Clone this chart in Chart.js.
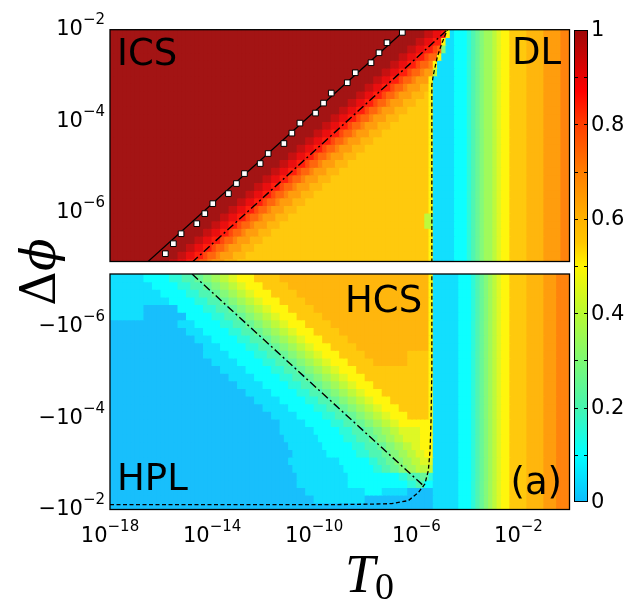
<!DOCTYPE html>
<html><head><meta charset="utf-8">
<script src="https://cdn.jsdelivr.net/npm/chart.js@4.4.1/dist/chart.umd.min.js"></script>
<style>
html,body{margin:0;padding:0;background:#fff;overflow:hidden}
#wrap{position:relative;width:624px;height:601px;background:#fff}
#wrap canvas{position:absolute;left:0;top:0}
</style></head><body>
<div id="wrap">
<canvas id="cTop" width="624" height="601"></canvas>
<canvas id="cBot" width="624" height="601"></canvas>
<canvas id="cBar" width="624" height="601"></canvas>
</div>
<script>
// ---------------- DATA ----------------
// cell centres, log10(T0)
const LOG_T0 = [
  -17.917,-17.75,-17.583,-17.417,-17.25,-17.083, -16.917,-16.75,-16.583,-16.417,-16.25,-16.083,
  -15.917,-15.75,-15.583,-15.417,-15.25,-15.083, -14.917,-14.75,-14.583,-14.417,-14.25,-14.083,
  -13.917,-13.75,-13.583,-13.417,-13.25,-13.083, -12.917,-12.75,-12.583,-12.417,-12.25,-12.083,
  -11.917,-11.75,-11.583,-11.417,-11.25,-11.083, -10.917,-10.75,-10.583,-10.417,-10.25,-10.083,
  -9.917,-9.75,-9.583,-9.417,-9.25,-9.083, -8.917,-8.75,-8.583,-8.417,-8.25,-8.083,
  -7.917,-7.75,-7.583,-7.417,-7.25,-7.083, -6.917,-6.75,-6.583,-6.417,-6.25,-6.083,
  -5.917,-5.75,-5.583,-5.417,-5.25,-5.083, -4.917,-4.75,-4.583,-4.417,-4.25,-4.083,
  -3.917,-3.75,-3.583,-3.417,-3.25,-3.083, -2.917,-2.75,-2.583,-2.417,-2.25,-2.083,
  -1.917,-1.75,-1.583,-1.417,-1.25,-1.083, -0.917,-0.75,-0.583,-0.417,-0.25,-0.083];
// cell centres, log10(Δφ) for Δφ > 0 (upper panel, top -> bottom)
const LOG_DPHI_POS = [-2.083,-2.25,-2.417,-2.583,-2.75,-2.917,-3.083,-3.25,-3.417,-3.583,-3.75,-3.917,
  -4.083,-4.25,-4.417,-4.583,-4.75,-4.917,-5.083,-5.25,-5.417,-5.583,-5.75,-5.917,-6.083,-6.25,-6.417,
  -6.583,-6.75,-6.917,-7.083];
// cell centres, log10(|Δφ|) for Δφ < 0 (lower panel, top -> bottom)
const LOG_DPHI_NEG = [-7.067,-6.9,-6.733,-6.567,-6.4,-6.233,-6.067,-5.9,-5.733,-5.567,-5.4,-5.233,
  -5.067,-4.9,-4.733,-4.567,-4.4,-4.233,-4.067,-3.9,-3.733,-3.567,-3.4,-3.233,-3.067,-2.9,-2.733,
  -2.567,-2.4,-2.233,-2.067];
// value code: a=0.00, b=0.05, ... u=1.00 ; rows are run-length coded, left -> right (108 cells)
const VALUE_CODE = 'abcdefghijklmnopqrstu';
const ROWS_POS = [
  '74u 2t 2s r k b 3c d e f g 2h i j 2k 4l 4m 4n 2o',
  '72u 2t 2s 2r k 2b 3c d e f g 2h i j 2k 4l 4m 4n 2o',
  '70u 2t 2s 2r q p g 2b 3c d e f g 2h i j 2k 4l 4m 4n 2o',
  '68u 2t 2s 2r q 2p k 3b 3c d e f g 2h i j 2k 4l 4m 4n 2o',
  '66u 2t 2s 2r q 2p o k 4b 3c d e f g 2h i j 2k 4l 4m 4n 2o',
  '64u 2t 2s 2r q 2p o 2n i 4b 3c d e f g 2h i j 2k 4l 4m 4n 2o',
  '62u 2t 2s 2r q 2p o 3n k 5b 3c d e f g 2h i j 2k 4l 4m 4n 2o',
  '60u 2t 2s 2r q 2p o 3n 2m k 5b 3c d e f g 2h i j 2k 4l 4m 4n 2o',
  '58u 2t 2s 2r q 2p o 3n 3m l k 5b 3c d e f g 2h i j 2k 4l 4m 4n 2o',
  '56u 2t 2s 2r q 2p o 3n 3m 3l k 5b 3c d e f g 2h i j 2k 4l 4m 4n 2o',
  '54u 2t 2s 2r q 2p o 3n 3m 5l k 5b 3c d e f g 2h i j 2k 4l 4m 4n 2o',
  '52u 2t 2s 2r q 2p o 3n 3m 7l k 5b 3c d e f g 2h i j 2k 4l 4m 4n 2o',
  '50u 2t 2s 2r q 2p o 3n 3m 9l k 5b 3c d e f g 2h i j 2k 4l 4m 4n 2o',
  '48u 2t 2s 2r q 2p o 3n 3m 11l k 5b 3c d e f g 2h i j 2k 4l 4m 4n 2o',
  '46u 2t 2s 2r q 2p o 3n 3m 13l k 5b 3c d e f g 2h i j 2k 4l 4m 4n 2o',
  '44u 2t 2s 2r q 2p o 3n 3m 15l k 5b 3c d e f g 2h i j 2k 4l 4m 4n 2o',
  '42u 2t 2s 2r q 2p o 3n 3m 17l k 5b 3c d e f g 2h i j 2k 4l 4m 4n 2o',
  '40u 2t 2s 2r q 2p o 3n 3m 19l k 5b 3c d e f g 2h i j 2k 4l 4m 4n 2o',
  '38u 2t 2s 2r q 2p o 3n 3m 21l k 5b 3c d e f g 2h i j 2k 4l 4m 4n 2o',
  '36u 2t 2s 2r q 2p o 3n 3m 23l k 5b 3c d e f g 2h i j 2k 4l 4m 4n 2o',
  '34u 2t 2s 2r q 2p o 3n 3m 25l k 5b 3c d e f g 2h i j 2k 4l 4m 4n 2o',
  '32u 2t 2s 2r q 2p o 3n 3m 27l k 5b 3c d e f g 2h i j 2k 4l 4m 4n 2o',
  '30u 2t 2s 2r q 2p o 3n 3m 29l k 5b 3c d e f g 2h i j 2k 4l 4m 4n 2o',
  '28u 2t 2s 2r q 2p o 3n 3m 31l k 5b 3c d e f g 2h i j 2k 4l 4m 4n 2o',
  '26u 2t 2s 2r q 2p o 3n 3m 32l 2i 5b 3c d e f g 2h i j 2k 4l 4m 4n 2o',
  '24u 2t 2s 2r q 2p o 3n 3m 34l 2i 5b 3c d e f g 2h i j 2k 4l 4m 4n 2o',
  '22u 2t 2s 2r q 2p o 3n 3m 37l k 5b 3c d e f g 2h i j 2k 4l 4m 4n 2o',
  '20u 2t 2s 2r q 2p o 3n 3m 39l k 5b 3c d e f g 2h i j 2k 4l 4m 4n 2o',
  '18u 2t 2s 2r q 2p o 3n 3m 41l k 5b 3c d e f g 2h i j 2k 4l 4m 4n 2o',
  '16u 2t 2s 2r q 2p o 3n 3m 43l k 5b 3c d e f g 2h i j 2k 4l 4m 4n 2o',
  '14u 2t 2s 2r q 2p o 3n 3m 45l k 5b 3c d e f g 2h i j 2k 4l 4m 4n 2o'
];
const ROWS_NEG = [
  '8b 6c 3d 3e 2f 2g 2h 2i 2j 4k 6l 35m k 6b 3c d e f g h i j 2k 4l 4m 3n 3o',
  '10b 6c 3d 3e 2f 2g 2h 2i 2j 4k 6l 33m k 6b 3c d e f g h i j 2k 4l 4m 3n 3o',
  '12b 6c 3d 3e 2f 2g 2h 2i 2j 4k 6l 31m k 6b 3c d e f g h i j 2k 4l 4m 3n 3o',
  '14b 6c 3d 3e 2f 2g 2h 2i 2j 4k 6l 29m k 6b 3c d e f g h i j 2k 4l 4m 3n 3o',
  '8b 8a 6c 3d 3e 2f 2g 2h 2i 2j 4k 6l 27m k 6b 3c d e f g h i j 2k 4l 4m 3n 3o',
  '8b 10a 6c 3d 3e 2f 2g 2h 2i 2j 4k 6l 25m k 6b 3c d e f g h i j 2k 4l 4m 3n 3o',
  '16a 4b 6c 3d 3e 2f 2g 2h 2i 2j 4k 6l 23m k 6b 3c d e f g h i j 2k 4l 4m 3n 3o',
  '18a 4b 6c 3d 3e 2f 2g 2h 2i 2j 4k 6l 21m k 6b 3c d e f g h i j 2k 4l 4m 3n 3o',
  '20a 4b 6c 3d 3e 2f 2g 2h 2i 2j 4k 6l 19m k 6b 3c d e f g h i j 2k 4l 4m 3n 3o',
  '22a 4b 6c 3d 3e 2f 2g 2h 2i 2j 4k 6l 17m k 6b 3c d e f g h i j 2k 4l 4m 3n 3o',
  '22a 6b 6c 3d 3e 2f 2g 2h 2i 2j 4k 6l 10m 5l k 6b 3c d e f g h i j 2k 4l 4m 3n 3o',
  '24a 6b 6c 3d 3e 2f 2g 2h 2i 2j 4k 6l 8m 5l k 6b 3c d e f g h i j 2k 4l 4m 3n 3o',
  '26a 6b 6c 3d 3e 2f 2g 2h 2i 2j 4k 6l 11l k 6b 3c d e f g h i j 2k 4l 4m 3n 3o',
  '28a 6b 6c 3d 3e 2f 2g 2h 2i 2j 4k 15l k 6b 3c d e f g h i j 2k 4l 4m 3n 3o',
  '30a 6b 6c 3d 3e 2f 2g 2h 2i 2j 4k 13l k 6b 3c d e f g h i j 2k 4l 4m 3n 3o',
  '32a 6b 6c 3d 3e 2f 2g 2h 2i 2j 4k 11l k 6b 3c d e f g h i j 2k 4l 4m 3n 3o',
  '34a 6b 6c 3d 3e 2f 2g 2h 2i 2j 4k 9l k 6b 3c d e f g h i j 2k 4l 4m 3n 3o',
  '36a 6b 6c 3d 3e 2f 2g 2h 2i 2j 4k 7l k 6b 3c d e f g h i j 2k 4l 4m 3n 3o',
  '38a 6b 6c 3d 3e 2f 2g 2h 2i 2j 4k 5l k 6b 3c d e f g h i j 2k 4l 4m 3n 3o',
  '40a 6b 6c 3d 3e 2f 2g 2h 2i 2j 8k 6b 3c d e f g h i j 2k 4l 4m 3n 3o',
  '40a 8b 6c 3d 3e 2f 2g 2h 2i 5j 3k 6b 3c d e f g h i j 2k 4l 4m 3n 3o',
  '41a 8b 6c 3d 3e 2f 2g 2h 2i 4j 3k 6b 3c d e f g h i j 2k 4l 4m 3n 3o',
  '42a 8b 7c 3d 3e 2f 2g 2h 2i 2j 3k 6b 3c d e f g h i j 2k 4l 4m 3n 3o',
  '43a 8b 7c 3d 3e 2f 2g 2h 2i 2j 2k 6b 3c d e f g h i j 2k 4l 4m 3n 3o',
  '42a 12b 7c 2d 2e 2f 2g 2h 2i 3j 6b 3c d e f g h i j 2k 4l 4m 3n 3o',
  '43a 12b 7c 2d 2e 2f 2g 2h 4i 6b 3c d e f g h i j 2k 4l 4m 3n 3o',
  '44a 12b 12c 2d 3e 2f d 6b 3c d e f g h i j 2k 4l 4m 3n 3o',
  '44a 12b 14c 2d 2e 2c 6b 3c d e f g h i j 2k 4l 4m 3n 3o',
  '46a 14b 4c 6b 6a 6b 3c d e f g h i j 2k 4l 4m 3n 3o',
  '48a 12b 16a 6b 3c d e f g h i j 2k 4l 4m 3n 3o',
  '76a 6b 3c d e f g h i j 2k 4l 4m 3n 3o'
];
// curves (log10 values)
const SQ_LOG_T0 = [-15.831,-15.518,-15.216,-14.600,-14.286,-13.973,-13.361,-13.047,-12.733,-12.118,-11.804,-11.188,
  -10.875,-10.561,-9.949,-9.635,-9.333,-8.706,-8.392,-7.776,-7.463,-7.149,-6.549];
const SQ_LOG_DPHI = [-6.890,-6.671,-6.453,-6.234,-6.015,-5.797,-5.578,-5.359,-5.141,-4.922,-4.703,-4.485,
  -4.258,-4.039,-3.820,-3.602,-3.383,-3.158,-2.940,-2.721,-2.503,-2.284,-2.059];
const SOLID_LOG_T0 = [-16.55, -6.55];
const SOLID_LOG_DPHI = [-7.08, -2.06];
const DASHDOT_POS_LOG_T0 = [-14.79, -4.78];
const DASHDOT_POS_LOG_DPHI = [-7.08, -2.0];
const DASHED_POS_LOG_T0 = [-5.392, -5.392, -5.333, -5.176, -5.02, -4.863, -4.784];
const DASHED_POS_LOG_DPHI = [-7.08, -3.202, -2.984, -2.59, -2.328, -2.109, -2.0];
const DASHDOT_NEG_LOG_T0 = [-14.784, -5.706];
const DASHDOT_NEG_LOG_DPHI = [-7.15, -2.512];
const DASHED_NEG_LOG_T0 = [-18, -9.373, -7.804, -6.98, -6.314, -5.922, -5.667, -5.53, -5.463, -5.424, -5.392, -5.392];
const DASHED_NEG_LOG_DPHI = [-2.106, -2.106, -2.117, -2.128, -2.194, -2.369, -2.556, -2.852, -3.29, -3.948, -5.045, -7.15];
// axes
const X_TICKS = [1e-18, 1e-14, 1e-10, 1e-6, 1e-2];
const X_TICK_EXP = ['−18', '−14', '−10', '−6', '−2'];
const Y_TICKS = [1e-2, 1e-4, 1e-6];
const Y_TICK_EXP = ['−2', '−4', '−6'];
const CB_TICKS = [0, 0.1, 0.2, 0.3, 0.4, 0.5, 0.6, 0.7, 0.8, 0.9, 1];
const CB_LABELS = ['0', '', '0.2', '', '0.4', '', '0.6', '', '0.8', '', '1'];

// ---------------- STYLE ----------------
const CMAP = [
  [0.00, [12,188,252]], [0.10, [0,255,255]], [0.20, [70,245,175]], [0.30, [125,250,115]],
  [0.40, [185,250,50]], [0.50, [255,245,0]], [0.55, [255,198,0]], [0.60, [255,178,0]],
  [0.70, [255,125,0]], [0.80, [255,62,0]], [0.87, [255,0,0]], [1.00, [158,8,8]]
];
const CELL_LIGHTEN = 0.05;   // the mesh of the original lightens the cells slightly
function cmapRGB(v){
  for (let i = 1; i < CMAP.length; i++){
    if (v <= CMAP[i][0] + 1e-9){
      const [v0,c0] = CMAP[i-1], [v1,c1] = CMAP[i];
      const t = (v - v0) / (v1 - v0);
      return c0.map((a,j) => a + (c1[j]-a)*t);
    }
  }
  return CMAP[CMAP.length-1][1].slice();
}
function cellColor(v){
  const c = cmapRGB(v).map(a => Math.round(a + (255 - a) * CELL_LIGHTEN));
  return `rgb(${c[0]},${c[1]},${c[2]})`;
}
function decodeRow(s){
  const out = [];
  s.trim().split(/\s+/).forEach(tok => {
    const m = tok.match(/^(\d*)([a-u])$/);
    const n = m[1] ? +m[1] : 1;
    for (let i = 0; i < n; i++) out.push(VALUE_CODE.indexOf(m[2]) * 0.05);
  });
  return out;
}
const HALF = 1/12;
function heatDatasets(rows, logRows){
  return rows.map((s, r) => {
    const vals = decodeRow(s);
    return {
      type: 'bar',
      data: LOG_T0.map(lx => ({x: 10 ** lx, y: [10 ** (logRows[r] - HALF), 10 ** (logRows[r] + HALF)]})),
      backgroundColor: LOG_T0.map((_, k) => cellColor(vals[k] !== undefined ? vals[k] : vals[vals.length-1])),
      borderWidth: 0, grouped: false, barPercentage: 1, categoryPercentage: 1,
      inflateAmount: 0.6, order: 10
    };
  });
}
function lineDs(lx, ly, dash, width){
  return {type: 'line', data: lx.map((v,i) => ({x: 10 ** v, y: 10 ** ly[i]})),
    borderColor: '#000', borderWidth: width, borderDash: dash, pointRadius: 0, fill: false, tension: 0, order: 1};
}
const FONT = '"DejaVu Sans", sans-serif';
function drawPow(ctx, prefix, exp, x, baseline, align){
  ctx.font = '21px ' + FONT; const wm = ctx.measureText(prefix + '10').width;
  ctx.font = '15px ' + FONT; const we = ctx.measureText(exp).width;
  const x0 = align === 'right' ? x - wm - we : x - (wm + we) / 2;
  ctx.textAlign = 'left'; ctx.textBaseline = 'alphabetic'; ctx.fillStyle = '#000';
  ctx.font = '21px ' + FONT; ctx.fillText(prefix + '10', x0, baseline);
  ctx.font = '15px ' + FONT; ctx.fillText(exp, x0 + wm, baseline - 11);
}
const panelPlugin = {
  id: 'panelDecor',
  afterDraw(chart, args, o){
    const ctx = chart.ctx, ca = chart.chartArea;
    ctx.save();
    ctx.strokeStyle = '#000'; ctx.lineWidth = 1.3;
    ctx.strokeRect(ca.left, ca.top, ca.right - ca.left, ca.bottom - ca.top);
    const ys = chart.scales.y;
    Y_TICKS.forEach((v, i) => drawPow(ctx, o.yPrefix, Y_TICK_EXP[i], ca.left - 5, ys.getPixelForValue(v) + 5.5, 'right'));
    if (o.xLabels){
      const xs = chart.scales.x;
      X_TICKS.forEach((v, i) => drawPow(ctx, '', X_TICK_EXP[i], xs.getPixelForValue(v), ca.bottom + 32.5, 'center'));
    }
    ctx.fillStyle = '#000'; ctx.textBaseline = 'alphabetic';
    ctx.font = '37px ' + FONT;
    o.texts.forEach(t => {
      ctx.textAlign = t.align;
      const x = t.align === 'right' ? ca.right + t.dx : ca.left + t.dx;
      const y = t.fromBottom ? ca.bottom + t.dy : ca.top + t.dy;
      ctx.fillText(t.text, x, y);
    });
    ctx.restore();
  }
};
function panelOptions(padTop, padBottom, yMin, yMax, reverse, decor){
  const setTicks = arr => s => { s.ticks = arr.map(v => ({value: v})); };
  return {
    responsive: false, animation: false, devicePixelRatio: 1,
    layout: {padding: {left: 110, right: 54.5, top: padTop, bottom: padBottom}},
    plugins: {legend: {display: false}, tooltip: {enabled: false}, panelDecor: decor},
    scales: {
      x: {type: 'logarithmic', min: 1e-18, max: 1, offset: false, bounds: 'data', display: false,
          afterBuildTicks: setTicks(X_TICKS)},
      y: {type: 'logarithmic', min: yMin, max: yMax, reverse: reverse, beginAtZero: false, bounds: 'data',
          display: false, afterBuildTicks: setTicks(Y_TICKS)}
    }
  };
}

// ---------------- UPPER PANEL (Δφ > 0) ----------------
new Chart(document.getElementById('cTop'), {
  type: 'bar',
  data: {datasets: [
    ...heatDatasets(ROWS_POS, LOG_DPHI_POS),
    lineDs(SOLID_LOG_T0, SOLID_LOG_DPHI, [], 1.3),
    lineDs(DASHDOT_POS_LOG_T0, DASHDOT_POS_LOG_DPHI, [8,3,2,3], 1.4),
    lineDs(DASHED_POS_LOG_T0, DASHED_POS_LOG_DPHI, [4,2.5], 1.3),
    {type: 'line', data: SQ_LOG_T0.map((v,i) => ({x: 10 ** v, y: 10 ** SQ_LOG_DPHI[i]})), showLine: false,
     pointStyle: 'rect', pointRadius: 4, pointBackgroundColor: '#fff', pointBorderColor: '#000', pointBorderWidth: 1, order: 0}
  ]},
  options: panelOptions(29.7, 601 - 261.5, 10 ** -7.06, 1e-2, false, {
    yPrefix: '', xLabels: false,
    texts: [{text: 'ICS', align: 'left', dx: 7, dy: 35.5}, {text: 'DL', align: 'right', dx: -8.5, dy: 34.5}]
  }),
  plugins: [panelPlugin]
});

// ---------------- LOWER PANEL (Δφ < 0, axis shows |Δφ| reversed) ----------------
new Chart(document.getElementById('cBot'), {
  type: 'bar',
  data: {datasets: [
    ...heatDatasets(ROWS_NEG, LOG_DPHI_NEG),
    lineDs(DASHDOT_NEG_LOG_T0, DASHDOT_NEG_LOG_DPHI, [8,3,2,3], 1.4),
    lineDs(DASHED_NEG_LOG_T0, DASHED_NEG_LOG_DPHI, [4,2.5], 1.3)
  ]},
  options: panelOptions(274, 601 - 509.5, 10 ** -7.15, 1e-2, true, {
    yPrefix: '−', xLabels: true,
    texts: [{text: 'HCS', align: 'left', dx: 235, dy: 37.5},
            {text: 'HPL', align: 'left', dx: 7, dy: -19.5, fromBottom: true},
            {text: '(a)', align: 'right', dx: -7.5, dy: -15.5, fromBottom: true}]
  }),
  plugins: [panelPlugin]
});

// ---------------- COLOUR BAR + axis titles ----------------
const cbPlugin = {
  id: 'cbDecor',
  afterDraw(chart){
    const ctx = chart.ctx, ca = chart.chartArea, ys = chart.scales.y;
    ctx.save();
    ctx.strokeStyle = '#000'; ctx.lineWidth = 1;
    CB_TICKS.forEach(v => {
      if (v <= 0 || v >= 1) return;
      const y = Math.round(ys.getPixelForValue(v)) + 0.5;
      ctx.beginPath(); ctx.moveTo(ca.left, y); ctx.lineTo(ca.left + 4, y);
      ctx.moveTo(ca.right - 4, y); ctx.lineTo(ca.right, y); ctx.stroke();
    });
    ctx.strokeRect(ca.left + 0.5, ca.top + 0.5, ca.right - ca.left - 1, ca.bottom - ca.top - 1);
    ctx.fillStyle = '#000'; ctx.font = '21px ' + FONT; ctx.textAlign = 'left'; ctx.textBaseline = 'middle';
    CB_TICKS.forEach((v, i) => { if (CB_LABELS[i]) ctx.fillText(CB_LABELS[i], ca.right + 3, ys.getPixelForValue(v) + 1); });
    // y title Δϕ (rotated)
    ctx.save();
    ctx.translate(55, 272); ctx.rotate(-Math.PI / 2);
    ctx.textBaseline = 'alphabetic'; ctx.textAlign = 'left';
    ctx.font = '48px "DejaVu Serif", serif'; const wd = ctx.measureText('Δ').width;
    ctx.font = 'italic 48px "DejaVu Serif", serif'; const wp = ctx.measureText('ϕ').width;
    const x0 = -(wd + wp) / 2;
    ctx.font = '48px "DejaVu Serif", serif'; ctx.fillText('Δ', x0, 0);
    ctx.font = 'italic 48px "DejaVu Serif", serif'; ctx.fillText('ϕ', x0 + wd, 0);
    ctx.restore();
    // x title T0
    ctx.textBaseline = 'alphabetic'; ctx.textAlign = 'left';
    ctx.font = 'italic 54px "Liberation Serif", serif'; ctx.fillText('T', 345, 592);
    ctx.font = '38px "Liberation Serif", serif'; ctx.fillText('0', 375, 599);
    ctx.restore();
  }
};
new Chart(document.getElementById('cBar'), {
  type: 'bar',
  data: {labels: ['c'], datasets: [{
    data: [[0, 1]],
    backgroundColor: (c) => {
      const ca = c.chart.chartArea;
      if (!ca) return '#888';
      const g = c.chart.ctx.createLinearGradient(0, ca.bottom, 0, ca.top);
      CMAP.forEach(([v, rgb]) => g.addColorStop(v, `rgb(${rgb[0]},${rgb[1]},${rgb[2]})`));
      return g;
    },
    borderWidth: 0, barPercentage: 1, categoryPercentage: 1, inflateAmount: 0
  }]},
  options: {
    responsive: false, animation: false, devicePixelRatio: 1,
    layout: {padding: {left: 574, right: 36, top: 30, bottom: 99}},
    plugins: {legend: {display: false}, tooltip: {enabled: false}},
    scales: {
      x: {display: false},
      y: {display: false, min: 0, max: 1, afterBuildTicks: s => { s.ticks = CB_TICKS.map(v => ({value: v})); }}
    }
  },
  plugins: [cbPlugin]
});
</script>
</body></html>
